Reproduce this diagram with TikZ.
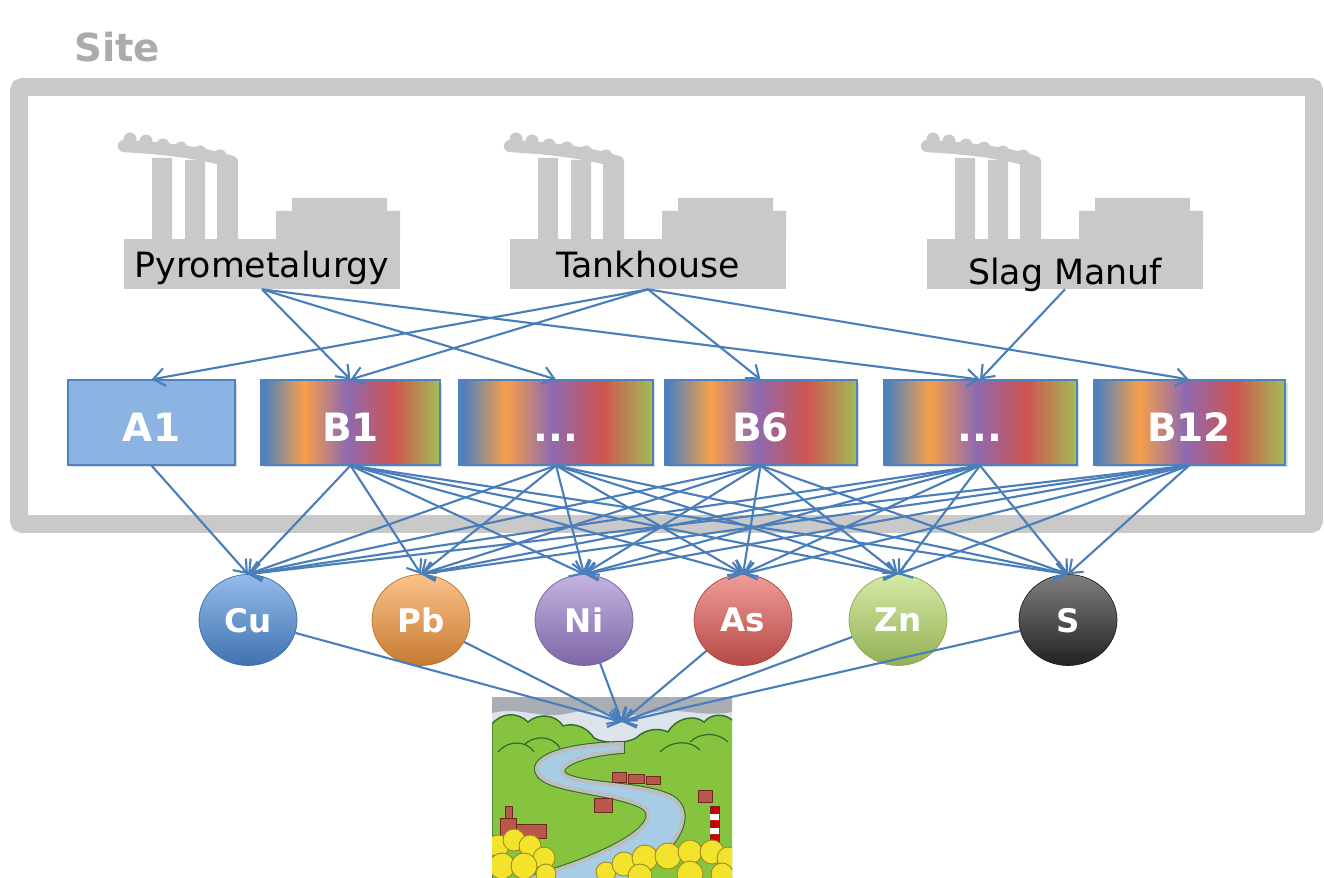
\documentclass[tikz,border=0pt]{standalone}
\usepackage{fontspec}
\setmainfont{DejaVu Sans}
\usetikzlibrary{arrows.meta,shapes.geometric,shadows}

\definecolor{frameGray}{HTML}{C9C9C9}
\definecolor{siteGray}{HTML}{ABABAB}
\definecolor{linkBlue}{HTML}{4A7EBB}
\definecolor{aBlue}{HTML}{4F81BD}
\definecolor{aOrange}{HTML}{F79F4A}
\definecolor{aPurple}{HTML}{8E6AB0}
\definecolor{aRed}{HTML}{CF5450}
\definecolor{aGreen}{HTML}{A2BE55}
\definecolor{aLight}{HTML}{8DB3E2}
\definecolor{cuCol}{HTML}{4F8FDC}
\definecolor{pbCol}{HTML}{F7993C}
\definecolor{niCol}{HTML}{9C80CE}
\definecolor{asCol}{HTML}{E45A55}
\definecolor{znCol}{HTML}{B9DC6A}
\definecolor{sCol}{HTML}{2A2A2A}
% landscape colours
\definecolor{skyGray}{HTML}{DDE3EA}
\definecolor{cloudGray}{HTML}{A9AEB4}
\definecolor{hillGreen}{HTML}{86C440}
\definecolor{hillLine}{HTML}{2F6B2A}
\definecolor{riverBlue}{HTML}{A6CCE6}
\definecolor{bankGray}{HTML}{BDBDBD}
\definecolor{bushYellow}{HTML}{F4E32C}
\definecolor{bushLine}{HTML}{9A8A20}
\definecolor{houseRed}{HTML}{B8574A}
\definecolor{houseLine}{HTML}{6A2A20}

% blue -> orange -> purple -> red -> green, inner 25bp..75bp fills the box
\pgfdeclarehorizontalshading{mixbar}{100bp}{%
  color(0bp)=(aBlue); color(26bp)=(aBlue); color(37bp)=(aOrange);
  color(49bp)=(aPurple); color(62bp)=(aRed); color(75bp)=(aGreen);
  color(100bp)=(aGreen)}

\tikzset{%
	site/.style     = {font=\bfseries\fontsize{22}{26}\selectfont, text=siteGray, inner sep=0pt},
	plant/.style    = {fill=frameGray, minimum width=5.52cm, minimum height=1cm, inner sep=0pt, text depth=0pt, font=\fontsize{19.8}{23}\selectfont},
	catbox/.style   = {draw=aBlue, line width=.6pt, minimum height=1.7cm, inner sep=0pt, text=white, text height=.78cm, text depth=0pt, font=\bfseries\fontsize{22.2}{26}\selectfont, drop shadow={opacity=.25, shadow xshift=.05cm, shadow yshift=-.05cm}},
	plainbox/.style = {catbox, fill=aLight},
	mixbox/.style   = {catbox, shading=mixbar},
	elem/.style     = {ellipse, minimum width=1.96cm, minimum height=1.82cm, inner sep=0pt, text=white, text depth=0pt, font=\bfseries\fontsize{18.5}{22}\selectfont, top color=#1!60!white, bottom color=#1!80!black, draw=#1!75!black, line width=.4pt},
	link/.style     = {draw=linkBlue, line width=1.2pt, -{Straight Barb[length=6.5pt,width=10pt]}},
	factory/.pic    = {
		% smoke
		\draw[frameGray, line width=7pt, line cap=round] (124,146) .. controls (160,148) and (200,152) .. (232,162);
		\foreach \sx/\sy in {130/139,146/141,163/145,181/148,200/152,220/156}
			\fill[frameGray] (\sx,\sy) circle[radius=.13cm];
		% chimneys
		\fill[frameGray] (152,158) rectangle (172,240) (185,160) rectangle (205,240) (217,162) rectangle (238,240);
		% hall
		\fill[frameGray] (276,211) rectangle (400,240) (292,198) rectangle (387,212);
	},
}

\begin{document}
\begin{tikzpicture}[x=0.02cm, y=-0.02cm]
	\fill[white, use as bounding box] (0,0) rectangle (1324,878);

	% site frame
	\node[site, anchor=base west] (site) at (74,62) {Site};
	\draw[frameGray, line width=10.2pt, rounded corners=2pt] (19,87) rectangle (1314,524);

	% plants
	\pic at (0,0) {factory};
	\pic at (386,0) {factory};
	\pic at (803,0) {factory};
	\node[plant] (pyro) at (262,264) {Pyrometalurgy};
	\node[plant] (tank) at (648,264) {Tankhouse};
	\node[plant, text height=.84cm] (slag) at (1065,264) {Slag Manuf};

	% waste categories
	\node[plainbox, minimum width=3.34cm] (A1) at (151.5,422.5) {A1};
	\node[mixbox, minimum width=3.58cm] (B1) at (350.5,422.5) {B1};
	\node[mixbox, minimum width=3.88cm] (Bx) at (556,422.5) {...};
	\node[mixbox, minimum width=3.86cm] (B6) at (760.5,422.5) {B6};
	\node[mixbox, minimum width=3.88cm] (By) at (980,422.5) {...};
	\node[mixbox, minimum width=3.84cm] (B12) at (1189,422.5) {B12};

	% elements
	\node[elem=cuCol] (Cu) at (248,620) {Cu};
	\node[elem=pbCol] (Pb) at (421,620) {Pb};
	\node[elem=niCol] (Ni) at (584,620) {Ni};
	\node[elem=asCol] (As) at (743,620) {As};
	\node[elem=znCol] (Zn) at (898,620) {Zn};
	\node[elem=sCol] (S) at (1068,620) {S};

	% river landscape
	\node[minimum width=4.8cm, minimum height=3.62cm, inner sep=0pt] (river) at (612,787.5) {};
	\begin{scope}
		\clip (492,697) rectangle (732,878);
		\fill[skyGray] (492,697) rectangle (732,878);
		\fill[cloudGray] (492,697) -- (732,697) -- (732,712) .. controls (700,718) and (680,706) .. (650,713) .. controls (620,720) and (600,706) .. (570,713) .. controls (540,720) and (520,706) .. (492,713) -- cycle;
		\filldraw[fill=hillGreen, draw=hillLine, line width=.8pt] (492,880) -- (492,724) .. controls (502,712) and (518,712) .. (528,722) .. controls (538,713) and (556,714) .. (563,726) .. controls (575,722) and (588,728) .. (594,738) .. controls (605,744) and (625,744) .. (636,738) .. controls (646,728) and (660,728) .. (668,732) .. controls (676,718) and (694,714) .. (704,722) .. controls (712,712) and (728,714) .. (734,722) -- (734,880) -- cycle;
		\draw[hillLine, line width=.7pt] (498,752) .. controls (508,740) and (526,740) .. (534,752)
			(524,745) .. controls (534,735) and (552,735) .. (560,748)
			(660,752) .. controls (672,740) and (690,740) .. (700,750)
			(690,742) .. controls (700,732) and (718,732) .. (728,742);
		\path[fill=riverBlue, preaction={draw=hillLine, line width=3.4pt}, draw=bankGray, line width=2.2pt]
			(622,744) .. controls (560,745) and (526,760) .. (540,776) .. controls (554,791) and (615,792) .. (642,806) .. controls (662,817) and (640,848) .. (517,882) -- (624,882) .. controls (684,846) and (694,812) .. (672,798) .. controls (648,784) and (586,786) .. (566,776) .. controls (552,768) and (578,754) .. (622,751) -- cycle;
		% houses and lighthouse
		\filldraw[fill=houseRed, draw=houseLine, line width=.4pt] (500,818) rectangle (516,838) (505,806) rectangle (512,818) (516,824) rectangle (546,838)
			(594,798) rectangle (612,812) (612,772) rectangle (626,782) (628,774) rectangle (644,783) (646,776) rectangle (660,784) (698,790) rectangle (712,802);
		\filldraw[fill=red!80!black, draw=houseLine, line width=.4pt] (710,806) rectangle (719,848);
		\fill[white] (710,814) rectangle (719,820) (710,828) rectangle (719,834);
		% bushes
		\foreach \bx/\by/\br in {498/846/.22,514/840/.22,530/846/.22,544/858/.22,502/866/.26,524/866/.26,546/874/.2,
				606/872/.2,624/864/.24,645/858/.26,668/856/.26,690/852/.24,712/852/.24,728/858/.22,640/876/.24,690/874/.26,722/874/.22}
			\filldraw[fill=bushYellow, draw=bushLine, line width=.5pt] (\bx,\by) circle[radius=\br cm];
	\end{scope}
	\coordinate (mouth) at (622,722);

	% plants to categories
	\draw[link] (pyro.south) -- (B1.north);
	\draw[link] (pyro.south) -- (Bx.north);
	\draw[link] (pyro.south) -- (By.north);
	\draw[link] (tank.south) -- (A1.north);
	\draw[link] (tank.south) -- (B1.north);
	\draw[link] (tank.south) -- (B6.north);
	\draw[link] (tank.south) -- (B12.north);
	\draw[link] (slag.south) -- (By.north);

	% categories to elements
	\draw[link] (A1.south) -- (Cu.north);
	\foreach \b in {B1,Bx,B6,By,B12}
		\foreach \e in {Cu,Pb,Ni,As,Zn,S}
			\draw[link] (\b.south) -- (\e.north);

	% elements to the river
	\foreach \e in {Cu,Pb,Ni,As,Zn,S}
		\draw[link] (\e) -- (mouth);
\end{tikzpicture}
\end{document}
